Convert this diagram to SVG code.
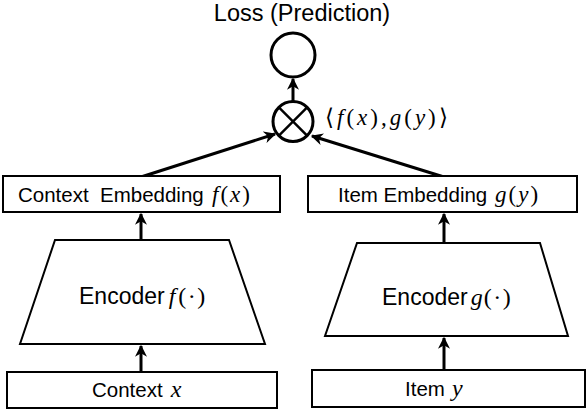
<svg xmlns="http://www.w3.org/2000/svg" width="588" height="410" viewBox="0 0 588 410">
<defs>
<style>
.box{fill:#fff;stroke:#000;stroke-width:2}
.circ{fill:#fff;stroke:#000;stroke-width:3}
.t{font-family:"Liberation Sans",Arial,sans-serif;fill:#000}
.m{font-family:"Liberation Serif","Times New Roman",serif;font-style:italic;fill:#000}
.mu{font-family:"Liberation Serif","Times New Roman",serif;fill:#000}
.mt{letter-spacing:2px}
.conn{stroke:#000;stroke-width:3;fill:none;marker-end:url(#ah)}
</style>
<marker id="ah" viewBox="0 0 10 10" refX="9" refY="5" markerWidth="4" markerHeight="4" orient="auto" markerUnits="strokeWidth">
<path d="M0,0 L10,5 L0,10 L3,5 z" fill="#000"/>
</marker>
</defs>
<g id="connectors">
<line class="conn" x1="141" y1="372" x2="141" y2="346"/>
<line class="conn" x1="141" y1="240" x2="141" y2="214"/>
<line class="conn" x1="444" y1="370" x2="444" y2="338"/>
<line class="conn" x1="444" y1="243" x2="444" y2="214"/>
<line class="conn" x1="141" y1="177" x2="275" y2="134"/>
<line class="conn" x1="444" y1="177" x2="312" y2="136"/>
<line class="conn" x1="293" y1="101" x2="293" y2="79"/>
</g>
<g id="loss">
<circle class="circ" cx="293" cy="55" r="22"/>
<text class="t" x="302" y="21" font-size="23.5" text-anchor="middle">Loss (Prediction)</text>
</g>
<g id="product">
<circle class="circ" cx="293" cy="121.5" r="20"/>
<line x1="278.9" y1="107.4" x2="307.1" y2="135.6" stroke="#000" stroke-width="2.5"/>
<line x1="307.1" y1="107.4" x2="278.9" y2="135.6" stroke="#000" stroke-width="2.5"/>
<text x="325" y="125" font-size="23" letter-spacing="3"><tspan class="mu">⟨</tspan><tspan class="m">f</tspan><tspan class="mu">(</tspan><tspan class="m">x</tspan><tspan class="mu">),</tspan><tspan class="m">g</tspan><tspan class="mu">(</tspan><tspan class="m">y</tspan><tspan class="mu">)⟩</tspan></text>
</g>
<g id="context-embedding">
<rect class="box" x="3" y="176" width="277" height="36"/>
<text class="t" x="18" y="202" font-size="20.5">Context</text>
<text class="t" x="100" y="202" font-size="20.5">Embedding</text>
<text class="mt" x="212" y="202" font-size="23"><tspan class="m">f</tspan><tspan class="mu">(</tspan><tspan class="m">x</tspan><tspan class="mu">)</tspan></text>
</g>
<g id="item-embedding">
<rect class="box" x="308" y="176" width="269" height="36"/>
<text class="t" x="338" y="202" font-size="20.5">Item Embedding</text>
<text class="mt" x="495" y="202" font-size="23"><tspan class="m">g</tspan><tspan class="mu">(</tspan><tspan class="m">y</tspan><tspan class="mu">)</tspan></text>
</g>
<g id="encoder-f">
<polygon class="box" points="55,240 229,240 265,344 20,344"/>
<text x="79" y="304" font-size="23"><tspan class="t">Encoder</tspan><tspan class="m" dx="4" font-size="24">f</tspan><tspan class="mu" dx="3" font-size="24" letter-spacing="1.5">(·)</tspan></text>
</g>
<g id="encoder-g">
<polygon class="box" points="357,243 540,243 568,336 325,336"/>
<text x="382" y="305" font-size="23"><tspan class="t">Encoder</tspan><tspan class="m" dx="3" font-size="24">g</tspan><tspan class="mu" dx="1" font-size="24" letter-spacing="1.5">(·)</tspan></text>
</g>
<g id="context">
<rect class="box" x="7" y="372" width="270" height="36"/>
<text x="92" y="397" font-size="20.5"><tspan class="t">Context</tspan><tspan class="m" dx="8" font-size="24">x</tspan></text>
</g>
<g id="item">
<rect class="box" x="312" y="370" width="273" height="37"/>
<text x="405" y="396" font-size="20.5"><tspan class="t">Item</tspan><tspan class="m" dx="7" font-size="24">y</tspan></text>
</g>
</svg>
